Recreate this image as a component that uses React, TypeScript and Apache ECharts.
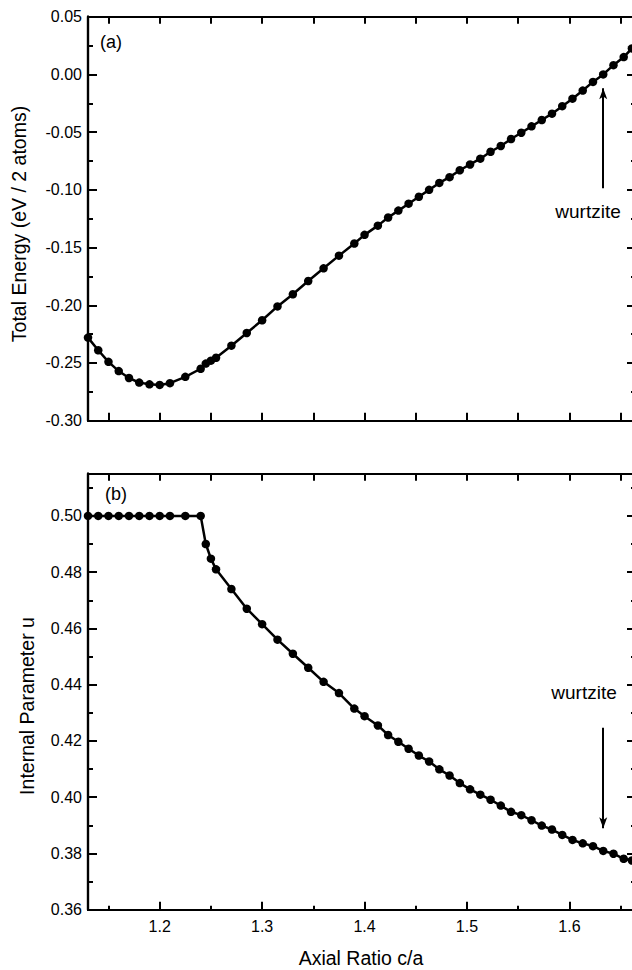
import React, { useEffect, useRef } from "react";
import * as echarts from "echarts";

// ---- data ----
const caRatio = [
  1.13, 1.14, 1.15, 1.16, 1.17, 1.18, 1.19, 1.2, 1.21, 1.225, 1.24, 1.245, 1.25, 1.255,
  1.27, 1.285, 1.3, 1.315, 1.33, 1.345, 1.36, 1.375, 1.39, 1.4, 1.413, 1.423, 1.433,
  1.443, 1.453, 1.463, 1.473, 1.483, 1.493, 1.503, 1.513, 1.523, 1.533, 1.543, 1.553,
  1.563, 1.573, 1.583, 1.593, 1.603, 1.613, 1.623, 1.633, 1.643, 1.653, 1.661,
];
const totalEnergy = [
  -0.228, -0.239, -0.249, -0.257, -0.263, -0.267, -0.2685, -0.269, -0.2675, -0.262,
  -0.255, -0.2505, -0.248, -0.2455, -0.235, -0.224, -0.213, -0.201, -0.1905, -0.179,
  -0.168, -0.157, -0.1465, -0.139, -0.131, -0.124, -0.118, -0.112, -0.106, -0.1,
  -0.094, -0.089, -0.083, -0.078, -0.073, -0.067, -0.062, -0.056, -0.0505, -0.045,
  -0.0395, -0.034, -0.0275, -0.021, -0.014, -0.0065, 0.0, 0.008, 0.015, 0.0225,
];
const internalU = [
  0.5, 0.5, 0.5, 0.5, 0.5, 0.5, 0.5, 0.5, 0.5, 0.5, 0.5, 0.49, 0.4848, 0.481,
  0.474, 0.467, 0.4615, 0.456, 0.451, 0.446, 0.441, 0.437, 0.4315, 0.4288, 0.4255,
  0.4221, 0.4197, 0.4172, 0.4148, 0.4127, 0.4099, 0.4077, 0.405, 0.4028, 0.4009,
  0.3991, 0.397, 0.3948, 0.3936, 0.3918, 0.3899, 0.3885, 0.3866, 0.3848, 0.3836,
  0.3826, 0.3809, 0.3799, 0.3781, 0.3775,
];

const caMajorTicks = [1.2, 1.3, 1.4, 1.5, 1.6];
const caMinorTicks = [1.15, 1.25, 1.35, 1.45, 1.55, 1.65];
const caAllTicks = [1.15, 1.2, 1.25, 1.3, 1.35, 1.4, 1.45, 1.5, 1.55, 1.6, 1.65];
const energyMajorTicks = [-0.3, -0.25, -0.2, -0.15, -0.1, -0.05, 0.0, 0.05];
const energyMinorTicks = [-0.275, -0.225, -0.175, -0.125, -0.075, -0.025, 0.025];
const uMajorTicks = [0.36, 0.38, 0.4, 0.42, 0.44, 0.46, 0.48, 0.5];
const uMinorTicks = [0.37, 0.39, 0.41, 0.43, 0.45, 0.47, 0.49, 0.51];

const wurtziteCA = 1.633;
const energyArrow = [-0.0987, -0.012];
const uArrow = [0.4247, 0.389];

const caRange = [1.13, 1.665];
const energyRange = [-0.3, 0.05];
const uRange = [0.36, 0.515];

const FONT = "'Liberation Sans', Arial, Helvetica, sans-serif";

function fmt2(v: number) {
  return (Math.abs(v) < 1e-9 ? 0 : v).toFixed(2);
}

function makeAxis(o: {
  gridIndex: number;
  position: string;
  min: number;
  max: number;
  ticks: number[];
  len: number;
  labels?: number[];
  labelFmt?: (v: number) => string;
  margin?: number;
}) {
  return {
    type: "value",
    gridIndex: o.gridIndex,
    position: o.position,
    min: o.min,
    max: o.max,
    scale: true,
    axisLine: { show: true, onZero: false, lineStyle: { color: "#000", width: 2.2 } },
    axisTick: {
      show: true,
      inside: true,
      length: o.len,
      customValues: o.ticks,
      lineStyle: { color: "#000", width: 2 },
    },
    minorTick: { show: false },
    splitLine: { show: false },
    axisLabel: o.labels
      ? {
          show: true,
          customValues: o.labels,
          formatter: o.labelFmt,
          margin: o.margin ?? 8,
          color: "#000",
          fontSize: 16,
          fontFamily: FONT,
        }
      : { show: false },
  };
}

export default function App() {
  const ref = useRef<HTMLDivElement>(null);

  useEffect(() => {
    if (!ref.current) return;
    const chart = echarts.init(ref.current, null, { renderer: "svg" });

    const topGrid = { left: 88, top: 16.7, width: 548, height: 404 };
    const botGrid = { left: 88, top: 473.7, width: 548, height: 436 };

    const xAxes = [
      makeAxis({ gridIndex: 0, position: "bottom", min: caRange[0], max: caRange[1], ticks: caAllTicks, len: 8 }),
      makeAxis({ gridIndex: 0, position: "top", min: caRange[0], max: caRange[1], ticks: caAllTicks, len: 7 }),
      makeAxis({
        gridIndex: 1, position: "bottom", min: caRange[0], max: caRange[1], ticks: caMajorTicks, len: 8,
        labels: caMajorTicks, labelFmt: (v: number) => v.toFixed(1), margin: 9,
      }),
      makeAxis({ gridIndex: 1, position: "bottom", min: caRange[0], max: caRange[1], ticks: caMinorTicks, len: 4 }),
      makeAxis({ gridIndex: 1, position: "top", min: caRange[0], max: caRange[1], ticks: caAllTicks, len: 7 }),
    ];

    const yAxes = [
      makeAxis({
        gridIndex: 0, position: "left", min: energyRange[0], max: energyRange[1], ticks: energyMajorTicks, len: 9,
        labels: energyMajorTicks, labelFmt: fmt2, margin: 6,
      }),
      makeAxis({ gridIndex: 0, position: "left", min: energyRange[0], max: energyRange[1], ticks: energyMinorTicks, len: 5 }),
      makeAxis({ gridIndex: 0, position: "right", min: energyRange[0], max: energyRange[1], ticks: energyMajorTicks, len: 9 }),
      makeAxis({ gridIndex: 0, position: "right", min: energyRange[0], max: energyRange[1], ticks: energyMinorTicks, len: 5 }),
      makeAxis({
        gridIndex: 1, position: "left", min: uRange[0], max: uRange[1], ticks: uMajorTicks, len: 9,
        labels: uMajorTicks, labelFmt: fmt2, margin: 6,
      }),
      makeAxis({ gridIndex: 1, position: "left", min: uRange[0], max: uRange[1], ticks: uMinorTicks, len: 5 }),
      makeAxis({ gridIndex: 1, position: "right", min: uRange[0], max: uRange[1], ticks: uMajorTicks, len: 9 }),
      makeAxis({ gridIndex: 1, position: "right", min: uRange[0], max: uRange[1], ticks: uMinorTicks, len: 5 }),
    ];

    const arrowLine = (y0: number, y1: number) => ({
      silent: true,
      symbol: ["none", "arrow"],
      symbolSize: [6, 11],
      label: { show: false },
      lineStyle: { color: "#000", width: 2, type: "solid" },
      data: [[{ coord: [wurtziteCA, y0] }, { coord: [wurtziteCA, y1] }]],
    });

    const textStyle = (size: number) => ({
      font: `${size}px ${FONT}`,
      fill: "#000",
      align: "center",
      verticalAlign: "middle",
    });

    const option = {
      animation: false,
      backgroundColor: "#fff",
      grid: [topGrid, botGrid],
      xAxis: xAxes,
      yAxis: yAxes,
      series: [
        {
          type: "line",
          name: "Total Energy",
          xAxisIndex: 0,
          yAxisIndex: 0,
          data: caRatio.map((c, i) => [c, totalEnergy[i]]),
          symbol: "circle",
          symbolSize: 8.5,
          showAllSymbol: true,
          lineStyle: { color: "#000", width: 2.5 },
          itemStyle: { color: "#000" },
          markLine: arrowLine(energyArrow[0], energyArrow[1]),
        },
        {
          type: "line",
          name: "Internal Parameter u",
          xAxisIndex: 2,
          yAxisIndex: 4,
          data: caRatio.map((c, i) => [c, internalU[i]]),
          symbol: "circle",
          symbolSize: 8.5,
          showAllSymbol: true,
          lineStyle: { color: "#000", width: 2.5 },
          itemStyle: { color: "#000" },
          markLine: arrowLine(uArrow[0], uArrow[1]),
        },
      ],
      graphic: [
        { type: "text", x: 111, y: 42, style: { text: "(a)", ...textStyle(18) } },
        { type: "text", x: 116, y: 494, style: { text: "(b)", ...textStyle(18) } },
        { type: "text", x: 588, y: 211, style: { text: "wurtzite", ...textStyle(19) } },
        { type: "text", x: 584, y: 692, style: { text: "wurtzite", ...textStyle(19) } },
        {
          type: "text", x: 18.5, y: 224, rotation: Math.PI / 2,
          style: { text: "Total Energy (eV / 2 atoms)", ...textStyle(19.5) },
        },
        {
          type: "text", x: 27, y: 706, rotation: Math.PI / 2,
          style: { text: "Internal Parameter u", ...textStyle(19.5) },
        },
        { type: "text", x: 361, y: 958, style: { text: "Axial Ratio c/a", ...textStyle(19.5) } },
      ],
    };

    chart.setOption(option as any);
    return () => chart.dispose();
  }, []);

  return (
    <div
      style={{
        position: "fixed",
        left: 0,
        top: 0,
        width: 632,
        height: 970,
        overflow: "hidden",
        background: "#fff",
      }}
    >
      <div ref={ref} style={{ width: 660, height: 970 }} />
    </div>
  );
}
